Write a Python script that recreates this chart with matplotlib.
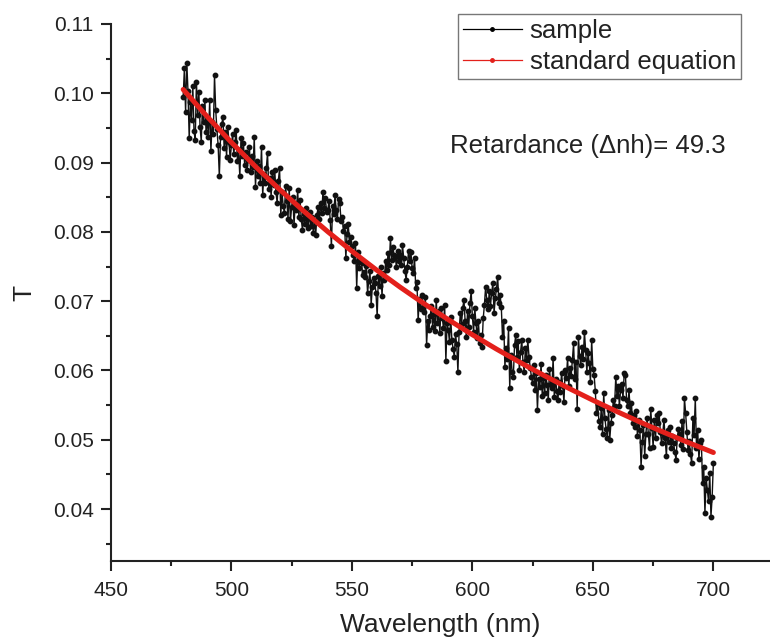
import matplotlib
matplotlib.use("Agg")
import matplotlib.pyplot as plt
from matplotlib.lines import Line2D
from matplotlib.ticker import MultipleLocator, FormatStrFormatter
import numpy as np

plt.rcParams['font.family'] = ['Liberation Sans', 'DejaVu Sans']

# sample spectrum, 480-700 nm every 0.5 nm, T in units of 1e-4
wl_start, wl_stop, wl_step = 480.0, 700.0, 0.5
sample_t = [
    995, 1036, 973, 1044, 1003, 935, 988, 962, 1010, 945, 933, 1017, 968, 1002, 952, 930, 981, 958, 990, 944,
    962, 937, 990, 916, 958, 941, 1026, 976, 948, 925, 880, 937, 955, 966, 921, 944, 908, 952, 930, 904,
    925, 941, 912, 930, 947, 903, 918, 880, 935, 909, 928, 897, 915, 890, 904, 922, 886, 910, 893, 937,
    865, 902, 880, 895, 871, 923, 853, 884, 870, 892, 914, 862, 878, 851, 887, 868, 889, 857, 842, 874,
    892, 824, 857, 838, 827, 866, 845, 819, 863, 815, 836, 850, 810, 842, 831, 860, 822, 846, 818, 803,
    826, 812, 834, 819, 806, 829, 808, 821, 799, 815, 796, 824, 836, 818, 841, 827, 858, 835, 849, 829,
    832, 845, 817, 779, 838, 826, 853, 831, 819, 847, 842, 815, 822, 801, 808, 762, 797, 811, 785, 793,
    779, 766, 758, 784, 719, 771, 748, 760, 755, 738, 742, 735, 751, 712, 729, 744, 695, 721, 733, 726,
    712, 678, 736, 722, 750, 707, 741, 731, 758, 745, 769, 752, 791, 760, 778, 767, 764, 749, 773, 758,
    766, 752, 781, 763, 744, 731, 750, 772, 758, 771, 748, 740, 762, 719, 727, 673, 703, 688, 709, 692,
    684, 706, 637, 671, 659, 678, 693, 663, 681, 657, 702, 668, 686, 654, 690, 676, 662, 695, 613, 668,
    659, 641, 677, 644, 631, 620, 652, 638, 598, 656, 683, 667, 690, 702, 671, 649, 686, 663, 697, 714,
    678, 656, 690, 668, 647, 672, 639, 651, 634, 675, 695, 721, 701, 688, 714, 693, 712, 726, 683, 704,
    718, 735, 697, 709, 692, 648, 671, 605, 633, 617, 661, 575, 622, 598, 591, 637, 651, 619, 643, 601,
    627, 644, 612, 598, 633, 615, 644, 620, 604, 591, 582, 608, 572, 596, 543, 587, 576, 610, 563, 589,
    567, 593, 579, 557, 602, 581, 574, 618, 562, 588, 571, 557, 583, 569, 596, 578, 554, 601, 589, 618,
    577, 603, 592, 615, 639, 587, 612, 545, 649, 621, 608, 634, 617, 656, 629, 598, 625, 611, 583, 644,
    602, 594, 571, 538, 552, 527, 519, 546, 509, 567, 531, 515, 502, 543, 500, 524, 536, 557, 548, 591,
    563, 578, 549, 572, 581, 560, 596, 594, 557, 548, 572, 539, 553, 524, 536, 519, 541, 505, 528, 514,
    461, 497, 522, 476, 508, 531, 509, 488, 545, 517, 490, 528, 502, 536, 524, 538, 511, 495, 509, 529,
    503, 476, 514, 497, 519, 488, 506, 495, 482, 471, 502, 515, 509, 493, 527, 486, 560, 538, 511, 485,
    498, 479, 466, 531, 507, 560, 488, 514, 472, 495, 500, 437, 461, 394, 445, 428, 411, 452, 389, 418,
    466,
]

# "standard equation" curve read every 10 nm
fit_wl = [480, 490, 500, 510, 520, 530, 540, 550, 560, 570, 580, 590,
          600, 610, 620, 630, 640, 650, 660, 670, 680, 690, 700]
fit_t = [0.10055, 0.09662, 0.09292, 0.08943, 0.08612, 0.08300, 0.08003, 0.07722,
         0.07456, 0.07203, 0.06963, 0.06734, 0.06516, 0.06309, 0.06112, 0.05923,
         0.05743, 0.05571, 0.05407, 0.05249, 0.05099, 0.04954, 0.04816]

annotation = "Retardance (\u0394nh)= 49.3"

wl = np.arange(wl_start, wl_stop + wl_step / 2, wl_step)
t = np.array(sample_t) * 1e-4

red = "#e3201b"
ink = "#222222"

fig = plt.figure(figsize=(7.7, 6.4), dpi=100)
ax = fig.add_axes([0.144, 0.1234, 0.856, 0.8391])

ax.plot(wl, t, color="#111111", lw=1.0, marker="o", ms=3.2, zorder=2)
ax.plot(fit_wl, fit_t, color=red, lw=3.6, solid_capstyle="round", zorder=3)

ax.set_xlim(450, 723.5)
ax.set_ylim(0.0325, 0.11)
ax.xaxis.set_major_locator(MultipleLocator(50))
ax.xaxis.set_minor_locator(MultipleLocator(25))
ax.yaxis.set_major_locator(MultipleLocator(0.01))
ax.yaxis.set_minor_locator(MultipleLocator(0.005))
ax.yaxis.set_major_formatter(FormatStrFormatter("%.2f"))

for s in ["top", "right"]:
    ax.spines[s].set_visible(False)
for s in ["left", "bottom"]:
    ax.spines[s].set_linewidth(1.5)
    ax.spines[s].set_color(ink)

ax.tick_params(which="major", direction="out", length=7.5, width=1.5, labelsize=15, colors=ink)
ax.tick_params(which="minor", direction="out", length=3.5, width=1.5, colors=ink)
ax.tick_params(axis="x", which="major", pad=7)
ax.tick_params(axis="y", which="major", pad=5)

ax.set_xlabel("Wavelength (nm)", fontsize=19, labelpad=9, color=ink)
ax.set_ylabel("T", fontsize=19, labelpad=12, color=ink)

ax.text(0.514, 0.772, annotation, transform=ax.transAxes, fontsize=18.5,
        ha="left", va="center", color=ink)

handles = [
    Line2D([], [], color="black", lw=0.9, marker="o", ms=2.5),
    Line2D([], [], color=red, lw=0.9, marker="o", ms=2.5),
]
leg = fig.legend(handles, ["sample", "standard equation"], loc="upper right",
                 bbox_to_anchor=(741 / 770, 1 - 14 / 640), fontsize=18.5,
                 frameon=True, fancybox=False, borderpad=0.2, labelspacing=0.25,
                 handlelength=2.3, handletextpad=0.3, borderaxespad=0)
leg.get_frame().set_edgecolor("#555555")
leg.get_frame().set_linewidth(1.0)
for txt in leg.get_texts():
    txt.set_color(ink)

fig.savefig("out.png", dpi=100)
